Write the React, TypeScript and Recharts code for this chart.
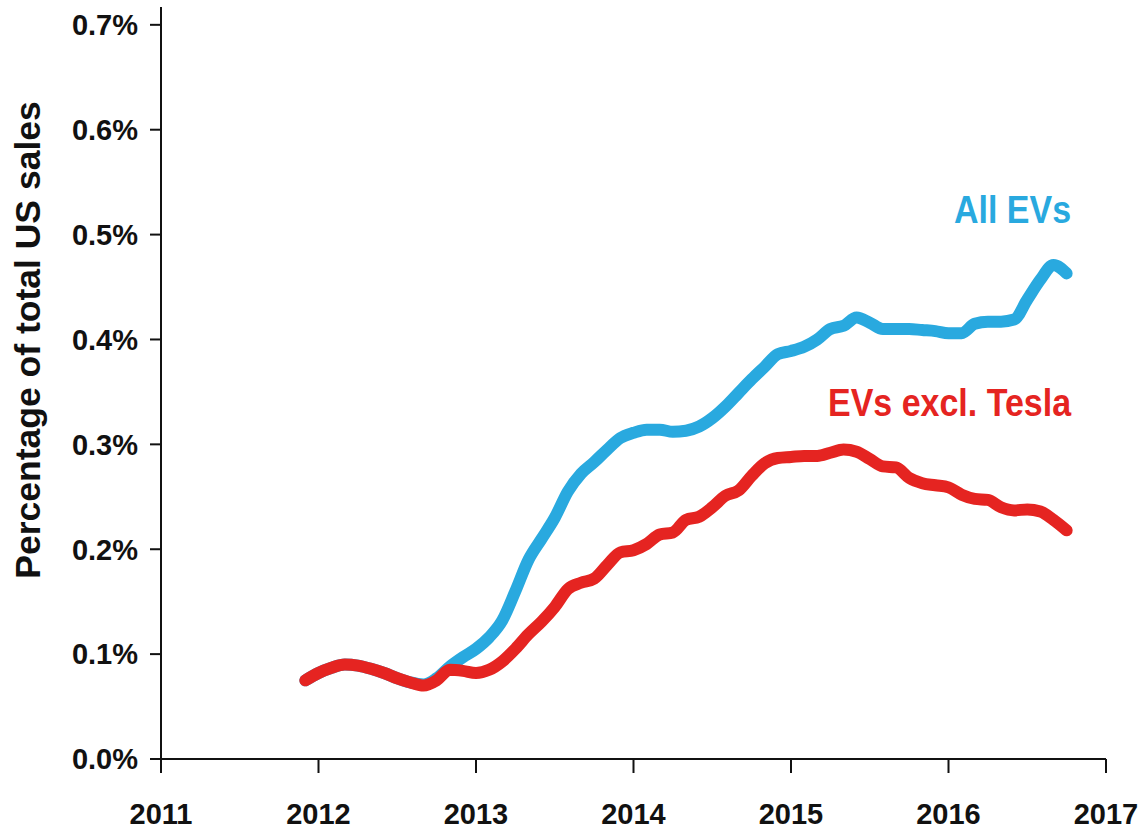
import React from 'react';
import { LineChart, Line, XAxis, YAxis, ReferenceDot } from 'recharts';

// monthly readings, Dec 2011 - Oct 2016 (percent of total US sales)
const MONTHS = [
  '2011-12',
  '2012-01', '2012-02', '2012-03', '2012-04', '2012-05', '2012-06',
  '2012-07', '2012-08', '2012-09', '2012-10', '2012-11', '2012-12',
  '2013-01', '2013-02', '2013-03', '2013-04', '2013-05', '2013-06',
  '2013-07', '2013-08', '2013-09', '2013-10', '2013-11', '2013-12',
  '2014-01', '2014-02', '2014-03', '2014-04', '2014-05', '2014-06',
  '2014-07', '2014-08', '2014-09', '2014-10', '2014-11', '2014-12',
  '2015-01', '2015-02', '2015-03', '2015-04', '2015-05', '2015-06',
  '2015-07', '2015-08', '2015-09', '2015-10', '2015-11', '2015-12',
  '2016-01', '2016-02', '2016-03', '2016-04', '2016-05', '2016-06',
  '2016-07', '2016-08', '2016-09', '2016-10',
];

const ALL_EVS = [
  0.075,
  0.082, 0.087, 0.090, 0.089, 0.086, 0.082,
  0.077, 0.073, 0.071, 0.077, 0.088, 0.097,
  0.105, 0.116, 0.132, 0.160, 0.190, 0.210,
  0.230, 0.255, 0.272, 0.283, 0.295, 0.306,
  0.311, 0.314, 0.314, 0.312, 0.313, 0.317,
  0.325, 0.336, 0.349, 0.362, 0.374, 0.386,
  0.389, 0.393, 0.400, 0.410, 0.413, 0.421,
  0.416, 0.410, 0.410, 0.410, 0.409, 0.408,
  0.406, 0.406, 0.415, 0.417, 0.417, 0.419,
  0.438, 0.457, 0.471, 0.463,
];

const EXCL_TESLA = [
  0.075,
  0.082, 0.087, 0.090, 0.089, 0.086, 0.082,
  0.077, 0.073, 0.070, 0.075, 0.085, 0.084,
  0.082, 0.085, 0.093, 0.105, 0.119, 0.131,
  0.145, 0.162, 0.168, 0.172, 0.185, 0.197,
  0.199, 0.205, 0.214, 0.216, 0.228, 0.231,
  0.240, 0.251, 0.256, 0.270, 0.282, 0.287,
  0.288, 0.289, 0.289, 0.292, 0.295, 0.293,
  0.286, 0.279, 0.278, 0.268, 0.263, 0.261,
  0.259, 0.252, 0.248, 0.247, 0.240, 0.237,
  0.238, 0.236, 0.228, 0.218,
];

const YEAR_TICKS = [2011, 2012, 2013, 2014, 2015, 2016, 2017];
const PCT_TICKS = [0, 0.1, 0.2, 0.3, 0.4, 0.5, 0.6, 0.7];

const BLUE = '#29a9df';
const RED = '#e52421';
const FONT = '"Liberation Sans", Arial, Helvetica, sans-serif';

const data = MONTHS.map((m, i) => {
  const [y, mo] = m.split('-').map(Number);
  return { t: y + (mo - 1) / 12, all: ALL_EVS[i], excl: EXCL_TESLA[i] };
});

// series labels; the original type is slightly taller than Liberation Sans
const annotation = (text: string, color: string) => (props: any) => (
  <text
    x={0}
    y={0}
    transform={`translate(${props.cx}, ${props.cy}) scale(1, 1.12)`}
    textAnchor="end"
    fill={color}
    fontFamily={FONT}
    fontWeight="bold"
    fontSize={34}
  >
    {text}
  </text>
);

// y-axis title sits a bit above the middle of the axis in the original
const YTitle = () => (
  <text
    x={28}
    y={340}
    transform="rotate(-90, 28, 340)"
    textAnchor="middle"
    dominantBaseline="central"
    fill="#111"
    fontFamily={FONT}
    fontWeight="bold"
    fontSize={35.5}
  >
    Percentage of total US sales
  </text>
);

export default function App() {
  const tickStyle = { fill: '#111', fontSize: 29, fontWeight: 'bold', fontFamily: FONT };
  return (
    <div style={{ position: 'absolute', left: 0, top: 0, background: '#fff' }}>
      <LineChart width={1146} height={830} data={data} margin={{ top: 7, right: 40, bottom: 0, left: 0 }}>
        <XAxis
          dataKey="t"
          type="number"
          domain={[2011, 2017]}
          ticks={YEAR_TICKS}
          tick={tickStyle}
          tickSize={14}
          tickMargin={30}
          height={71}
          stroke="#111"
          strokeWidth={2}
          allowDataOverflow
        />
        <YAxis
          type="number"
          domain={[0, 0.717]}
          ticks={PCT_TICKS}
          tickFormatter={(v: number) => `${v.toFixed(1)}%`}
          tick={tickStyle}
          tickSize={11}
          tickMargin={12}
          width={161}
          stroke="#111"
          strokeWidth={2}
          allowDataOverflow
          label={<YTitle />}
        />
        <Line
          type="monotone"
          dataKey="all"
          stroke={BLUE}
          strokeWidth={12}
          strokeLinecap="round"
          strokeLinejoin="round"
          dot={false}
          activeDot={false}
          isAnimationActive={false}
        />
        <Line
          type="monotone"
          dataKey="excl"
          stroke={RED}
          strokeWidth={12}
          strokeLinecap="round"
          strokeLinejoin="round"
          dot={false}
          activeDot={false}
          isAnimationActive={false}
        />
        <ReferenceDot x={2016.778} y={0.511} shape={annotation('All EVs', BLUE)} />
        <ReferenceDot x={2016.778} y={0.327} shape={annotation('EVs excl. Tesla', RED)} />
      </LineChart>
    </div>
  );
}
